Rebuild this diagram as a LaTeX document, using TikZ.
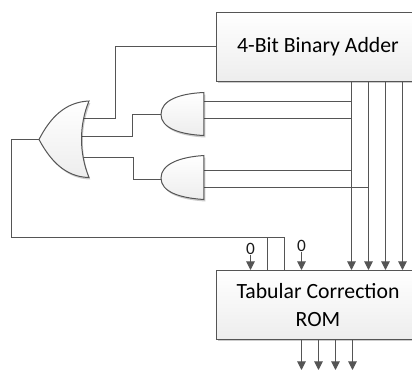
\documentclass[tikz,border=0pt]{standalone}
\usepackage{fontspec}
\setmainfont{Carlito}
\usetikzlibrary{arrows.meta,shadows,calc}
\definecolor{wirec}{HTML}{555555}
\tikzset{
  wire/.style={draw=wirec,line width=0.75pt},
  arrowwire/.style={wire,-{Triangle[width=6.5pt,length=6.5pt]}},
  softshadow/.style={drop shadow={shadow xshift=1pt,shadow yshift=-1.5pt,opacity=0.2,fill=black}},
  blockbox/.style={rectangle,draw=wirec,line width=0.75pt,top color=white,bottom color=black!7,
    softshadow,minimum width=152.25pt,minimum height=51.5pt,inner sep=0pt,align=center,
    font=\fontsize{16.3}{20.5}\selectfont,text=black},
  gatebody/.style={draw=wirec,line width=0.75pt,top color=white,bottom color=black!7,softshadow},
  zerolabel/.style={inner sep=0pt,font=\fontsize{13}{14}\selectfont,text=black!90}
}
\begin{document}
\begin{tikzpicture}[x=0.75pt,y=-0.75pt]
\clip (0,0) rectangle (412,372);
% gate pins
\coordinate (orTip) at (39,139.5);
\coordinate (orA) at (83.5,118.5);
\coordinate (orB) at (81,136.5);
\coordinate (orC) at (83,157.5);
\coordinate (andAout) at (161,114.5);
\coordinate (andBout) at (161,179.5);
\coordinate (andAi) at (204,101.5);
\coordinate (andAj) at (204,118.5);
\coordinate (andBi) at (204,170.5);
\coordinate (andBj) at (204,187.5);
% blocks
\node[blockbox] (adder) at (318,46.8) {4-Bit Binary Adder};
\node[blockbox] (rom) at (318,305) {Tabular Correction\\ROM};
% named pins
\coordinate (outA) at (351.5,81);
\coordinate (outB) at (368.5,81);
\coordinate (outC) at (385.5,81);
\coordinate (outD) at (402.5,81);
\coordinate (inA) at (351.5,270);
\coordinate (inB) at (368.5,270);
\coordinate (inC) at (385.5,270);
\coordinate (inD) at (402.5,270);
\coordinate (inE) at (250.5,270);
\coordinate (inF) at (267.5,270);
\coordinate (inG) at (284.5,270);
\coordinate (inH) at (301.5,270);
\coordinate (feedF) at (267.5,237.5);
\coordinate (botA) at (301.5,340);
\coordinate (botB) at (318.5,340);
\coordinate (botC) at (335.5,340);
\coordinate (botD) at (352.5,340);
\coordinate (endA) at (301.5,370);
\coordinate (endB) at (318.5,370);
\coordinate (endC) at (335.5,370);
\coordinate (endD) at (352.5,370);
\node[zerolabel,anchor=south] (zeroA) at (250.5,255) {0};
\node[zerolabel,anchor=south] (zeroB) at (301.5,252) {0};
% wires
\draw[wire] (orA) -- (115.5,118.5) |- (adder.west);
\draw[wire] (orB) -- (132.5,136.5) |- (andAout);
\draw[wire] (orC) -- (133.5,157.5) |- (andBout);
\draw[wire] (orTip) -- (11.5,139.5) -- (11.5,237.5) -| (inG);
\draw[wire] (feedF) -- (inF);
\draw[wire] (andAi) -- (351.5,101.5);
\draw[wire] (andAj) -- (351.5,118.5);
\draw[wire] (andBi) -- (351.5,170.5);
\draw[wire] (andBj) -- (368.5,187.5);
\draw[arrowwire] (outA) -- (inA);
\draw[arrowwire] (outB) -- (inB);
\draw[arrowwire] (outC) -- (inC);
\draw[arrowwire] (outD) -- (inD);
\draw[arrowwire] (zeroA) -- (inE);
\draw[arrowwire] (zeroB) -- (inH);
\draw[arrowwire] (botA) -- (endA);
\draw[arrowwire] (botB) -- (endB);
\draw[arrowwire] (botC) -- (endC);
\draw[arrowwire] (botD) -- (endD);
% gates
\path[gatebody] (204,92.5) .. controls (180,93.5) and (161,100) .. (161,114.5)
  .. controls (161,128) and (180,134.5) .. (204,135.5) -- cycle;
\path[gatebody] (204,155.5) .. controls (180,157) and (161,164) .. (161,178)
  .. controls (161,192) and (180,198) .. (204,199.5) -- cycle;
\path[gatebody] (39,139.5) .. controls (50,118) and (65,102) .. (89,101)
  .. controls (79,125) and (79,153) .. (89,177.5)
  .. controls (65,177) and (50,160) .. (39,139.5) -- cycle;
\end{tikzpicture}
\end{document}
